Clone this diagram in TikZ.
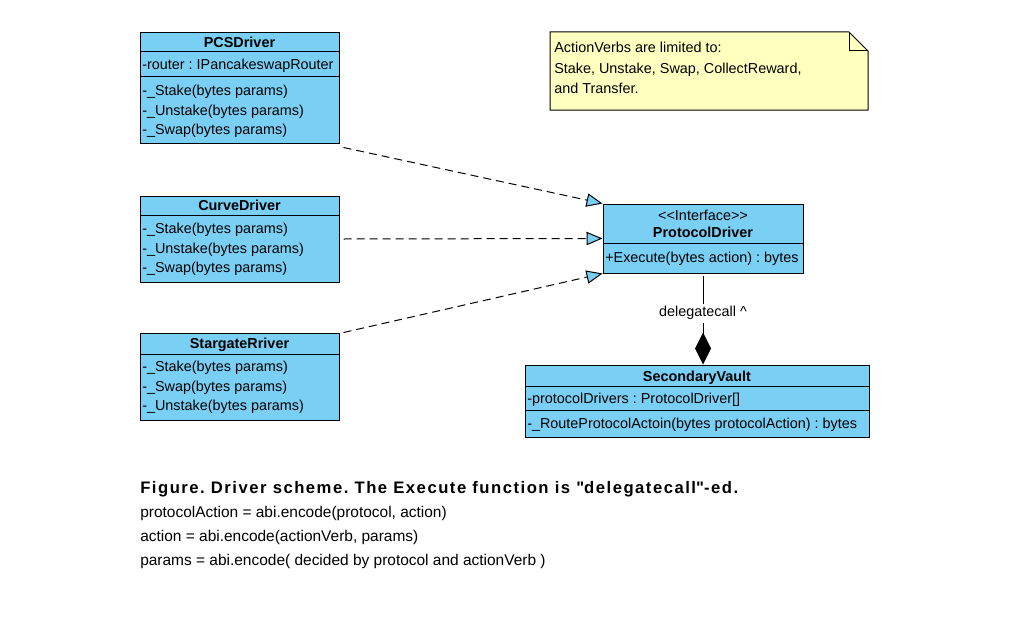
\documentclass[tikz,border=0pt]{standalone}
\usepackage{fontspec}
\setmainfont{Liberation Sans}
\usepackage{tikz}
\usetikzlibrary{arrows.meta}

\definecolor{umlblue}{RGB}{122,207,245}
\definecolor{noteyellow}{RGB}{255,255,192}
\frenchspacing

\begin{document}
\begin{tikzpicture}[x=0.75pt, y=-0.75pt,
    classbox/.style={draw, fill=umlblue, line width=0.75pt, inner sep=0pt},
    divider/.style={line width=0.75pt},
    member/.style={anchor=west, inner sep=0pt, font=\fontsize{10.8}{12}\selectfont, text height=0.8em, text depth=0.1em},
    classname/.style={member, anchor=center, font=\fontsize{10.8}{12}\selectfont\bfseries},
    figtext/.style={anchor=west, inner sep=0pt, font=\fontsize{11.6}{14}\selectfont, text height=0.8em, text depth=0.1em},
    realizes/.style={line width=0.75pt, dash pattern=on 6pt off 3.75pt, -{Triangle[length=12pt, width=10pt, fill=umlblue]}},
    composes/.style={line width=0.75pt, {Diamond[length=24pt, width=12pt]}-}]

      \useasboundingbox (0,0) rectangle (1034,617);

      \node[classbox, minimum width=149.25pt, minimum height=82.5pt] (pcs) at (239.5,88) {};
      \draw[divider] (140,52) -- (339,52);
      \draw[divider] (140,77) -- (339,77);
      \node[classname] (pcs-name) at (239.5,43) {PCSDriver};
      \node[member] (pcs-router) at (142,65) {-router : IPancakeswapRouter};
      \node[member] (pcs-stake) at (142,90.5) {-\_Stake(bytes params)};
      \node[member] (pcs-unstake) at (142,110.5) {-\_Unstake(bytes params)};
      \node[member] (pcs-swap) at (142,129.5) {-\_Swap(bytes params)};

      \node[classbox, minimum width=149.25pt, minimum height=64.5pt] (curve) at (239.5,239) {};
      \draw[divider] (140,215) -- (339,215);
      \node[classname] (curve-name) at (239.5,206) {CurveDriver};
      \node[member] (curve-stake) at (142,228.5) {-\_Stake(bytes params)};
      \node[member] (curve-unstake) at (142,248.5) {-\_Unstake(bytes params)};
      \node[member] (curve-swap) at (142,267.5) {-\_Swap(bytes params)};

      \node[classbox, minimum width=149.25pt, minimum height=65.25pt] (star) at (239.5,376.5) {};
      \draw[divider] (140,354) -- (339,354);
      \node[classname] (star-name) at (239.5,344) {StargateRriver};
      \node[member] (star-stake) at (142,366.5) {-\_Stake(bytes params)};
      \node[member] (star-swap) at (142,386.5) {-\_Swap(bytes params)};
      \node[member] (star-unstake) at (142,405.5) {-\_Unstake(bytes params)};

      \node[classbox, minimum width=150pt, minimum height=51.75pt] (proto) at (703,238.5) {};
      \draw[divider] (603,243) -- (803,243);
      \node[member, anchor=center] (proto-stereo) at (703,215.5) {<{}<Interface>{}>};
      \node[classname] (proto-name) at (703,232.5) {ProtocolDriver};
      \node[member] (proto-execute) at (605,257.5) {+Execute(bytes action) : bytes};

      \node[classbox, minimum width=258pt, minimum height=54pt] (vault) at (697,401) {};
      \draw[divider] (525,386) -- (869,386);
      \draw[divider] (525,410) -- (869,410);
      \node[classname] (vault-name) at (697,376.5) {SecondaryVault};
      \node[member] (vault-drivers) at (527,398.5) {-protocolDrivers : ProtocolDriver[]};
      \node[member] (vault-route) at (527,423.5) {-\_RouteProtocolActoin(bytes protocolAction) : bytes};

      \draw[line width=0.75pt, fill=noteyellow] (550,32) -- (849,32) -- (868,51) -- (868,110) -- (550,110) -- cycle;
      \draw[line width=0.75pt] (849,32) -- (849,51) -- (868,51);
      \node[member] (note-l1) at (554,47.5) {ActionVerbs are limited to:};
      \node[member] (note-l2) at (554,68.5) {Stake, Unstake, Swap, CollectReward,};
      \node[member] (note-l3) at (554,88.5) {and Transfer.};

      \draw[realizes] ([shift={(4,4)}]pcs.south east) -- (proto.north west);
      \draw[realizes] ([xshift=3pt]curve.east) -- (proto.west);
      \draw[realizes] ([xshift=3pt]star.north east) -- (proto.south west);

      \draw[composes] (proto.south |- vault.north) -- ([yshift=-2pt]proto.south)
        node[pos=0.58, fill=white, inner sep=2pt, font=\fontsize{10.8}{12}\selectfont] (delegate) {delegatecall \textasciicircum};

      \node[figtext, font=\fontsize{12.5}{14}\selectfont\bfseries\addfontfeature{LetterSpace=9}] (fig-title) at (140,489) {Figure. Driver scheme. The Execute function is \textquotedbl delegatecall\textquotedbl-ed.};
      \node[figtext] (fig-l1) at (140,513) {protocolAction = abi.encode(protocol, action)};
      \node[figtext] (fig-l2) at (140,537) {action = abi.encode(actionVerb, params)};
      \node[figtext] (fig-l3) at (140,561) {params = abi.encode( decided by protocol and actionVerb )};
    \end{tikzpicture}
\end{document}
